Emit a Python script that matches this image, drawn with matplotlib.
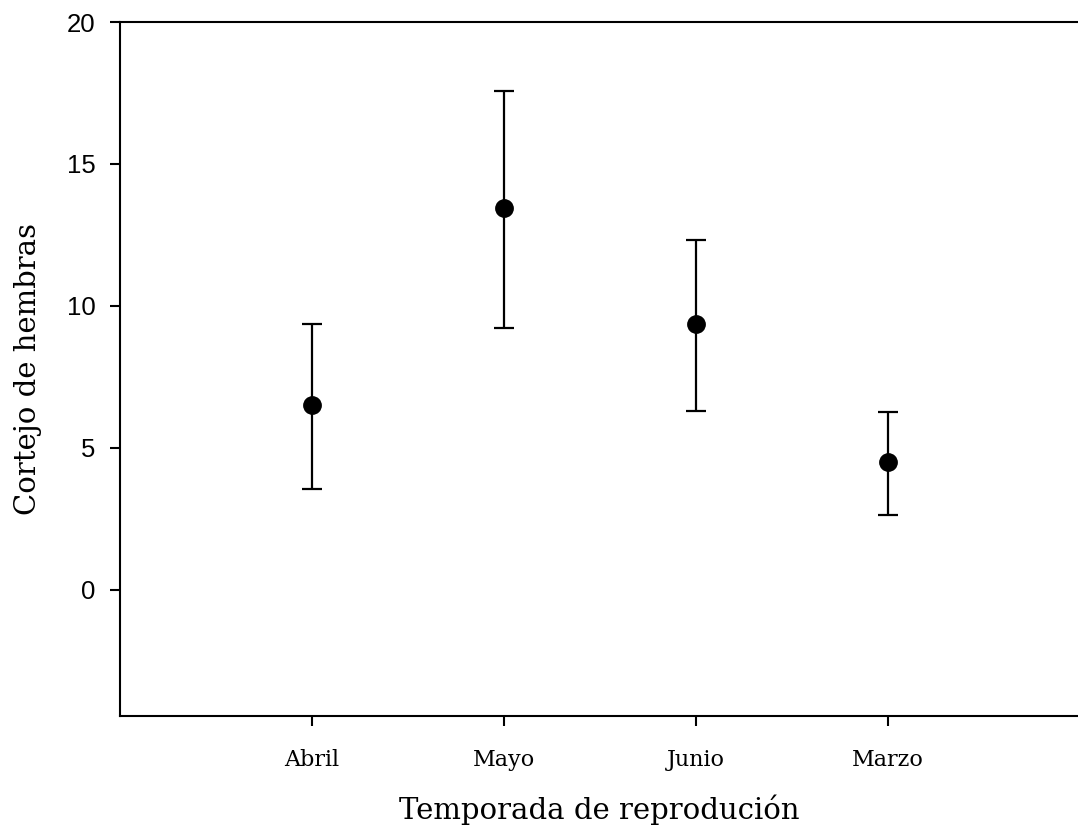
import matplotlib
matplotlib.use("Agg")
import matplotlib.pyplot as plt

# mean and error limits per month
meses = ["Abril", "Mayo", "Junio", "Marzo"]
media = [6.51, 13.44, 9.35, 4.51]
limite_sup = [9.37, 17.56, 12.32, 6.27]
limite_inf = [3.56, 9.23, 6.31, 2.64]

pos = list(range(1, len(meses) + 1))
err_inf = [m - l for m, l in zip(media, limite_inf)]
err_sup = [u - m for m, u in zip(media, limite_sup)]

fig = plt.figure(figsize=(10.78, 8.34), dpi=100)
ax = fig.add_axes([120 / 1078, 1 - 716 / 834, 958 / 1078, (716 - 22) / 834])

ax.errorbar(pos, media, yerr=[err_inf, err_sup], fmt="o", color="black",
            markersize=12.5, elinewidth=1.6, capsize=7, capthick=1.6)

ax.set_xlim(0, 4.99)
ax.set_ylim(-4.44, 20)
ax.set_yticks([0, 5, 10, 15, 20])
ax.set_xticks(pos)
ax.set_xticklabels(meses, family="DejaVu Serif", fontsize=16)
for t in ax.get_yticklabels():
    t.set_family("Liberation Sans")
    t.set_fontsize(18.5)

ax.spines["right"].set_visible(False)
for s in ["left", "bottom", "top"]:
    ax.spines[s].set_linewidth(1.5)
ax.tick_params(axis="both", direction="out", length=7.5, width=1.5)
ax.tick_params(axis="y", pad=10)
ax.tick_params(axis="x", pad=16)

ax.set_xlabel("Temporada de reprodución", family="DejaVu Serif", fontsize=21, labelpad=17)
ax.set_ylabel("Cortejo de hembras", family="DejaVu Serif", fontsize=21, labelpad=18)

fig.savefig("out.png", dpi=100)
